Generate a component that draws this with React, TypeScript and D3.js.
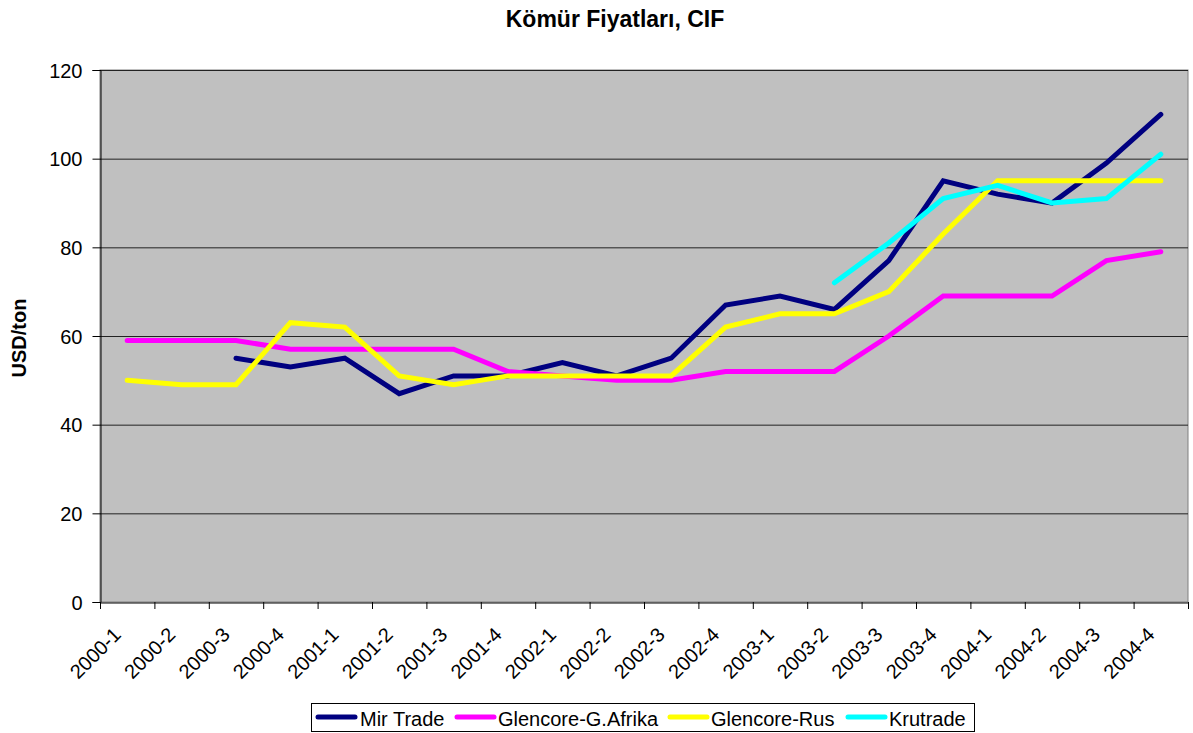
import React, { useEffect, useRef } from 'react'
import * as d3 from 'd3'

const categories = [
  '2000-1', '2000-2', '2000-3', '2000-4',
  '2001-1', '2001-2', '2001-3', '2001-4',
  '2002-1', '2002-2', '2002-3', '2002-4',
  '2003-1', '2003-2', '2003-3', '2003-4',
  '2004-1', '2004-2', '2004-3', '2004-4',
]

const mirTrade = [null, null, 55, 53, 55, 47, 51, 51, 54, 51, 55, 67, 69, 66, 77, 95, 92, 90, 99, 110]
const glencoreAfrika = [59, 59, 59, 57, 57, 57, 57, 52, 51, 50, 50, 52, 52, 52, 60, 69, 69, 69, 77, 79]
const glencoreRus = [50, 49, 49, 63, 62, 51, 49, 51, 51, 51, 51, 62, 65, 65, 70, 83, 95, 95, 95, 95]
const krutrade = [null, null, null, null, null, null, null, null, null, null, null, null, null, 72, 81, 91, 94, 90, 91, 101]

const yTicks = [0, 20, 40, 60, 80, 100, 120]

const series = [
  { name: 'Mir Trade', values: mirTrade, color: '#000080' },
  { name: 'Glencore-G.Afrika', values: glencoreAfrika, color: '#FF00FF' },
  { name: 'Glencore-Rus', values: glencoreRus, color: '#FFFF00' },
  { name: 'Krutrade', values: krutrade, color: '#00FFFF' },
]

const App = () => {
  const ref = useRef<SVGSVGElement>(null)

  useEffect(() => {
    const svg = d3.select(ref.current)
    svg.selectAll('*').remove()

    const left = 100
    const right = 1188
    const top = 70
    const bottom = 602
    const font = 'Arial, "Liberation Sans", sans-serif'

    const x = d3.scaleBand().domain(categories).range([left, right])
    const y = d3.scaleLinear().domain([0, 120]).range([bottom, top])

    svg.append('rect')
      .attr('width', 1193).attr('height', 733).attr('fill', '#fff')

    // title
    svg.append('text')
      .attr('x', 615).attr('y', 27)
      .attr('text-anchor', 'middle')
      .attr('font-family', font).attr('font-size', 23).attr('font-weight', 'bold')
      .text('Kömür Fiyatları, CIF')

    // plot area
    svg.append('rect')
      .attr('x', left).attr('y', top)
      .attr('width', right - left).attr('height', bottom - top)
      .attr('fill', '#C0C0C0').attr('stroke', '#808080')

    // gridlines
    svg.append('g')
      .selectAll('line')
      .data(yTicks.filter((d) => d > 0))
      .join('line')
      .attr('x1', left).attr('x2', right)
      .attr('y1', (d) => y(d) + 0.5).attr('y2', (d) => y(d) + 0.5)
      .attr('stroke', '#222').attr('stroke-width', 1)

    // y axis
    const yAxis = svg.append('g')
      .attr('transform', `translate(${left + 0.5},0)`)
      .call(d3.axisLeft(y).tickValues(yTicks).tickSize(8).tickPadding(10))
    yAxis.selectAll('text')
      .attr('font-family', font).attr('font-size', 20).attr('fill', '#000')
      .attr('dy', '0.36em')
    yAxis.select('.domain').attr('stroke', '#000')
    yAxis.selectAll('.tick line').attr('stroke', '#000')

    // x axis
    const xAxis = svg.append('g')
      .attr('transform', `translate(0,${bottom + 0.5})`)
      .call(d3.axisBottom(x).tickSize(0).tickFormat(() => ''))
    xAxis.select('.domain').attr('stroke', '#000')
    xAxis.selectAll('.tick').remove()

    svg.append('g')
      .selectAll('line')
      .data(d3.range(categories.length + 1))
      .join('line')
      .attr('x1', (i) => left + i * x.step() + 0.5)
      .attr('x2', (i) => left + i * x.step() + 0.5)
      .attr('y1', bottom).attr('y2', bottom + 7)
      .attr('stroke', '#000')

    svg.append('g')
      .selectAll('text')
      .data(categories)
      .join('text')
      .attr('transform', (d) => `translate(${(x(d) as number) + x.bandwidth() / 2 - 5},${bottom + 34}) rotate(-45)`)
      .attr('text-anchor', 'end')
      .attr('font-family', font).attr('font-size', 20)
      .text((d) => d)

    // y label
    svg.append('text')
      .attr('transform', `translate(26,${338}) rotate(-90)`)
      .attr('text-anchor', 'middle')
      .attr('font-family', font).attr('font-size', 20).attr('font-weight', 'bold')
      .text('USD/ton')

    // lines
    const line = d3.line<number | null>()
      .defined((d) => d !== null)
      .x((_, i) => (x(categories[i]) as number) + x.bandwidth() / 2)
      .y((d) => y(d as number))

    series.forEach((s) => {
      svg.append('path')
        .datum(s.values)
        .attr('fill', 'none')
        .attr('stroke', s.color)
        .attr('stroke-width', 5)
        .attr('stroke-linejoin', 'miter')
        .attr('stroke-linecap', 'round')
        .attr('d', line)
    })

    // legend
    const lg = svg.append('g')
    lg.append('rect')
      .attr('x', 311.5).attr('y', 703.5)
      .attr('width', 663).attr('height', 28)
      .attr('fill', '#fff').attr('stroke', '#000')
    const items = [
      { x: 316, tx: 360 },
      { x: 455, tx: 498 },
      { x: 668, tx: 711 },
      { x: 846, tx: 889 },
    ]
    series.forEach((s, i) => {
      lg.append('line')
        .attr('x1', items[i].x + 2).attr('x2', items[i].x + 39)
        .attr('y1', 717).attr('y2', 717)
        .attr('stroke', s.color).attr('stroke-width', 5)
        .attr('stroke-linecap', 'round')
      lg.append('text')
        .attr('x', items[i].tx).attr('y', 726)
        .attr('font-family', font).attr('font-size', 20)
        .text(s.name)
    })
  }, [])

  return (
    <svg ref={ref} width={1193} height={733} style={{ position: 'absolute', left: 0, top: 0 }} />
  )
}

export default App
